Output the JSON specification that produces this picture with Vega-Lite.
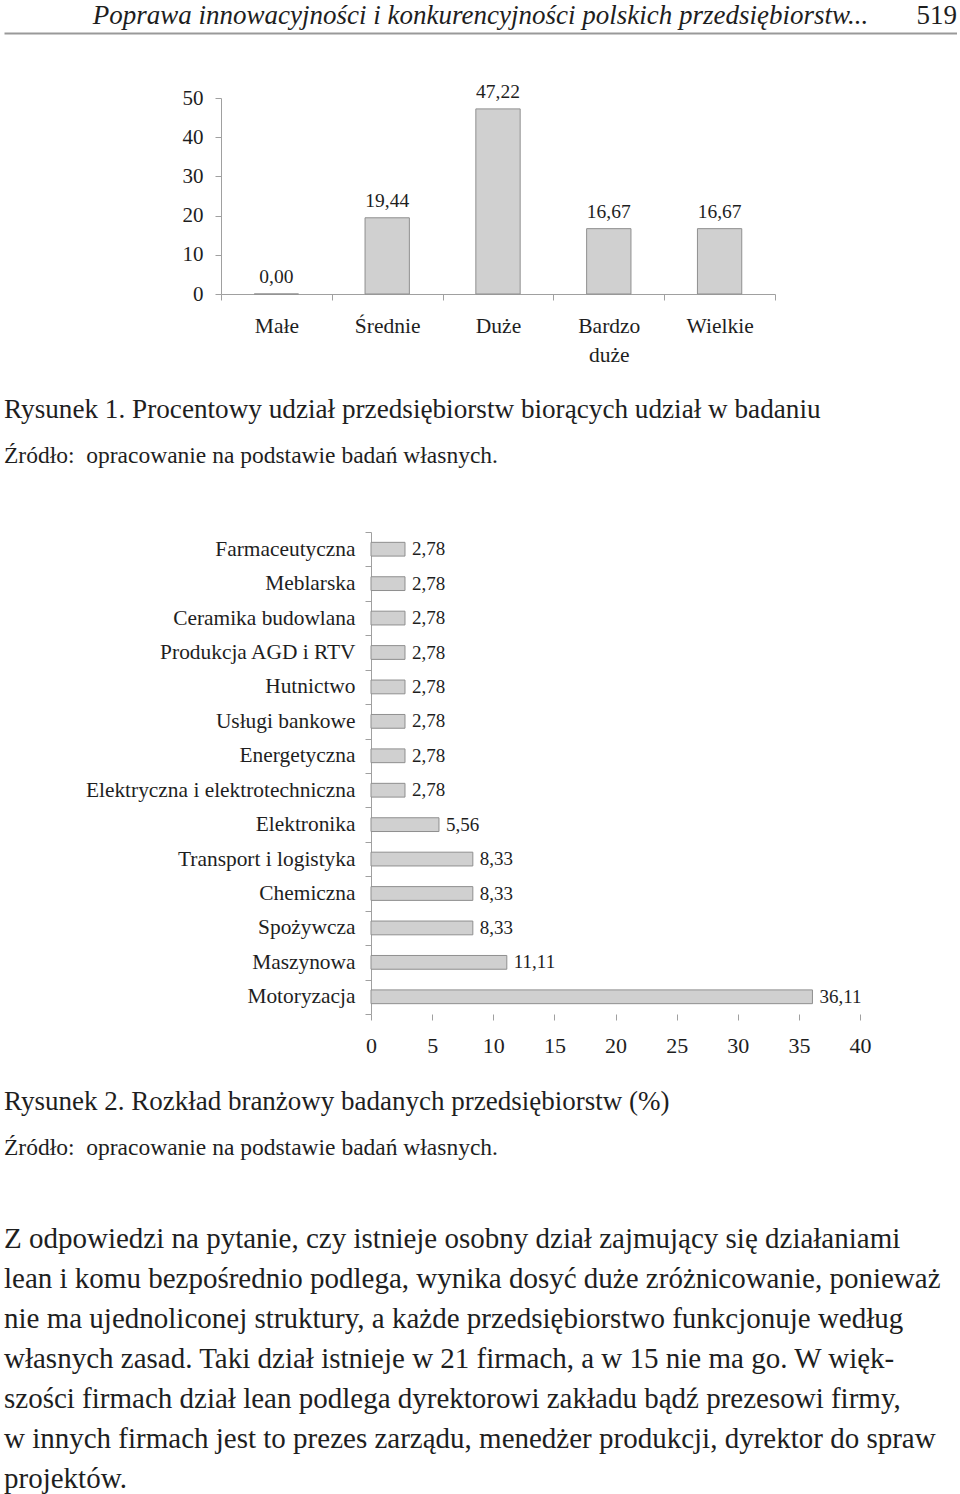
{
  "$schema": "https://vega.github.io/schema/vega-lite/v6.json",
  "padding": {"left": 4, "top": 2, "right": 0, "bottom": 0},
  "background": "white",
  "config": {
    "font": "Liberation Serif",
    "view": {"stroke": null},
    "locale": {"number": {"decimal": ",", "thousands": " ", "grouping": [3], "currency": ["", " zł"]}},
    "axis": {"labelColor": "#1e1e1e", "domainColor": "#a0a0a0", "tickColor": "#a0a0a0", "grid": false, "title": null},
    "text": {"fill": "#1e1e1e"}
  },
  "columns": 1,
  "align": "none",
  "spacing": 48,
  "concat": [
    {
      "columns": 1,
      "align": "none",
      "spacing": 23,
      "concat": [
        {
          "columns": 1,
          "align": "none",
          "spacing": 42,
          "concat": [
            {
              "columns": 1,
              "align": "none",
              "spacing": 21,
              "concat": [
                {
                  "columns": 1,
                  "align": "none",
                  "spacing": 48,
                  "concat": [
                    {
                      "width": 953,
                      "height": 31,
                      "data": {"values": [{"running_head": "Poprawa innowacyjności i konkurencyjności polskich przedsiębiorstw...", "page": "519"}]},
                      "layer": [
                        {
                          "mark": {"type": "text", "fontStyle": "italic", "fontSize": 27, "align": "center", "baseline": "middle", "dy": -1.5},
                          "encoding": {
                            "text": {"field": "running_head"},
                            "x": {"datum": 0.5, "type": "quantitative", "scale": {"domain": [0, 1], "nice": false}, "axis": {"domain": true, "domainColor": "#999999", "domainWidth": 2, "labels": false, "ticks": false, "title": null, "grid": false}}
                          }
                        },
                        {
                          "mark": {"type": "text", "fontSize": 27, "align": "right", "baseline": "middle", "dy": -1.5},
                          "encoding": {
                            "text": {"field": "page"},
                            "x": {"datum": 1, "type": "quantitative"}
                          }
                        }
                      ]
                    },
                    {
                      "spacing": 0,
                      "hconcat": [
                        {"width": 157, "height": 1, "data": {"values": []}, "mark": {"type": "rule"}, "encoding": {}},
                        {
                          "width": 554,
                          "height": 196,
                          "data": {"values": [
                            {"company_size": "Małe", "share": 0.00},
                            {"company_size": "Średnie", "share": 19.44},
                            {"company_size": "Duże", "share": 47.22},
                            {"company_size": "Bardzo duże", "share": 16.67},
                            {"company_size": "Wielkie", "share": 16.67}
                          ]},
                          "encoding": {
                            "x": {"field": "company_size", "type": "nominal", "sort": null, "scale": {"paddingInner": 0, "paddingOuter": 0},
                                  "axis": {"labelAngle": 0, "tickBand": "extent", "tickSize": 6, "labelPadding": 15, "labelFontSize": 21.5, "labelExpr": "split(datum.label, ' ')", "labelLineHeight": 29, "title": null}},
                            "y": {"field": "share", "type": "quantitative", "scale": {"domain": [0, 50], "nice": false},
                                  "axis": {"values": [0, 10, 20, 30, 40, 50], "tickSize": 6, "labelPadding": 12, "labelFontSize": 21, "minExtent": 60, "title": null}}
                          },
                          "layer": [
                            {"mark": {"type": "bar", "width": {"band": 0.4}, "fill": "#d0d0d0", "stroke": "#8f8f8f", "strokeWidth": 1}},
                            {"mark": {"type": "text", "baseline": "alphabetic", "dy": -11, "fontSize": 19.5},
                             "encoding": {"text": {"field": "share", "type": "quantitative", "format": ".2f"}}}
                          ]
                        }
                      ]
                    }
                  ]
                },
                {
                  "width": 950,
                  "height": 92,
                  "data": {"values": [
                    {"line": 1, "kind": "figure", "text": "Rysunek 1. Procentowy udział przedsiębiorstw biorących udział w badaniu"},
                    {"line": 2, "kind": "source", "text": "Źródło:\u00a0 opracowanie na podstawie badań własnych."}
                  ]},
                  "encoding": {
                    "x": {"datum": 0, "type": "quantitative", "scale": {"domain": [0, 1]}, "axis": null},
                    "y": {"field": "line", "type": "ordinal", "scale": {"type": "point", "padding": 0.5}, "axis": null},
                    "text": {"field": "text"}
                  },
                  "layer": [
                    {"transform": [{"filter": "datum.kind == 'figure'"}], "mark": {"type": "text", "align": "left", "baseline": "middle", "fontSize": 27.2}},
                    {"transform": [{"filter": "datum.kind == 'source'"}], "mark": {"type": "text", "align": "left", "baseline": "middle", "fontSize": 23.5}}
                  ]
                }
              ]
            },
            {
              "spacing": 0,
              "hconcat": [
                {"width": 67, "height": 1, "data": {"values": []}, "mark": {"type": "rule"}, "encoding": {}},
                {
                  "width": 489,
                  "height": 482,
                  "data": {"values": [
                    {"industry": "Farmaceutyczna", "share": 2.78},
                    {"industry": "Meblarska", "share": 2.78},
                    {"industry": "Ceramika budowlana", "share": 2.78},
                    {"industry": "Produkcja AGD i RTV", "share": 2.78},
                    {"industry": "Hutnictwo", "share": 2.78},
                    {"industry": "Usługi bankowe", "share": 2.78},
                    {"industry": "Energetyczna", "share": 2.78},
                    {"industry": "Elektryczna i elektrotechniczna", "share": 2.78},
                    {"industry": "Elektronika", "share": 5.56},
                    {"industry": "Transport i logistyka", "share": 8.33},
                    {"industry": "Chemiczna", "share": 8.33},
                    {"industry": "Spożywcza", "share": 8.33},
                    {"industry": "Maszynowa", "share": 11.11},
                    {"industry": "Motoryzacja", "share": 36.11}
                  ]},
                  "encoding": {
                    "y": {"field": "industry", "type": "nominal", "sort": null, "scale": {"paddingInner": 0, "paddingOuter": 0},
                          "axis": {"tickBand": "extent", "tickSize": 6, "labelPadding": 10, "labelFontSize": 21.4, "labelLimit": 400, "minExtent": 300, "title": null}},
                    "x": {"field": "share", "type": "quantitative", "scale": {"domain": [0, 40], "nice": false},
                          "axis": {"values": [0, 5, 10, 15, 20, 25, 30, 35, 40], "domain": false, "tickSize": 6, "labelPadding": 15, "labelFontSize": 22, "labelFlush": false, "title": null}}
                  },
                  "layer": [
                    {"mark": {"type": "bar", "height": {"band": 0.4}, "fill": "#d0d0d0", "stroke": "#8f8f8f", "strokeWidth": 1}},
                    {"mark": {"type": "text", "align": "left", "baseline": "middle", "dx": 7, "fontSize": 19},
                     "encoding": {"text": {"field": "share", "type": "quantitative", "format": ".2f"}}}
                  ]
                }
              ]
            }
          ]
        },
        {
          "width": 950,
          "height": 92,
          "data": {"values": [
            {"line": 1, "kind": "figure", "text": "Rysunek 2. Rozkład branżowy badanych przedsiębiorstw (%)"},
            {"line": 2, "kind": "source", "text": "Źródło:\u00a0 opracowanie na podstawie badań własnych."}
          ]},
          "encoding": {
            "x": {"datum": 0, "type": "quantitative", "scale": {"domain": [0, 1]}, "axis": null},
            "y": {"field": "line", "type": "ordinal", "scale": {"type": "point", "padding": 0.5}, "axis": null},
            "text": {"field": "text"}
          },
          "layer": [
            {"transform": [{"filter": "datum.kind == 'figure'"}], "mark": {"type": "text", "align": "left", "baseline": "middle", "fontSize": 27}},
            {"transform": [{"filter": "datum.kind == 'source'"}], "mark": {"type": "text", "align": "left", "baseline": "middle", "fontSize": 23.5}}
          ]
        }
      ]
    },
    {
      "width": 950,
      "height": 280,
      "data": {"values": [
        {"line": 1, "text": "\u00a0\u00a0\u00a0\u00a0\u00a0\u00a0\u00a0\u00a0Z odpowiedzi na pytanie, czy istnieje osobny dział zajmujący się działaniami"},
        {"line": 2, "text": "lean i komu bezpośrednio podlega, wynika dosyć duże zróżnicowanie, ponieważ"},
        {"line": 3, "text": "nie ma ujednoliconej struktury, a każde przedsiębiorstwo funkcjonuje według"},
        {"line": 4, "text": "własnych zasad. Taki dział istnieje w 21 firmach, a w 15 nie ma go. W więk-"},
        {"line": 5, "text": "szości firmach dział lean podlega dyrektorowi zakładu bądź prezesowi firmy,"},
        {"line": 6, "text": "w innych firmach jest to prezes zarządu, menedżer produkcji, dyrektor do spraw"},
        {"line": 7, "text": "projektów."}
      ]},
      "mark": {"type": "text", "align": "left", "baseline": "middle", "fontSize": 29},
      "encoding": {
        "x": {"datum": 0, "type": "quantitative", "scale": {"domain": [0, 1]}, "axis": null},
        "y": {"field": "line", "type": "ordinal", "scale": {"type": "point", "padding": 0.5}, "axis": null},
        "text": {"field": "text"}
      }
    }
  ]
}
